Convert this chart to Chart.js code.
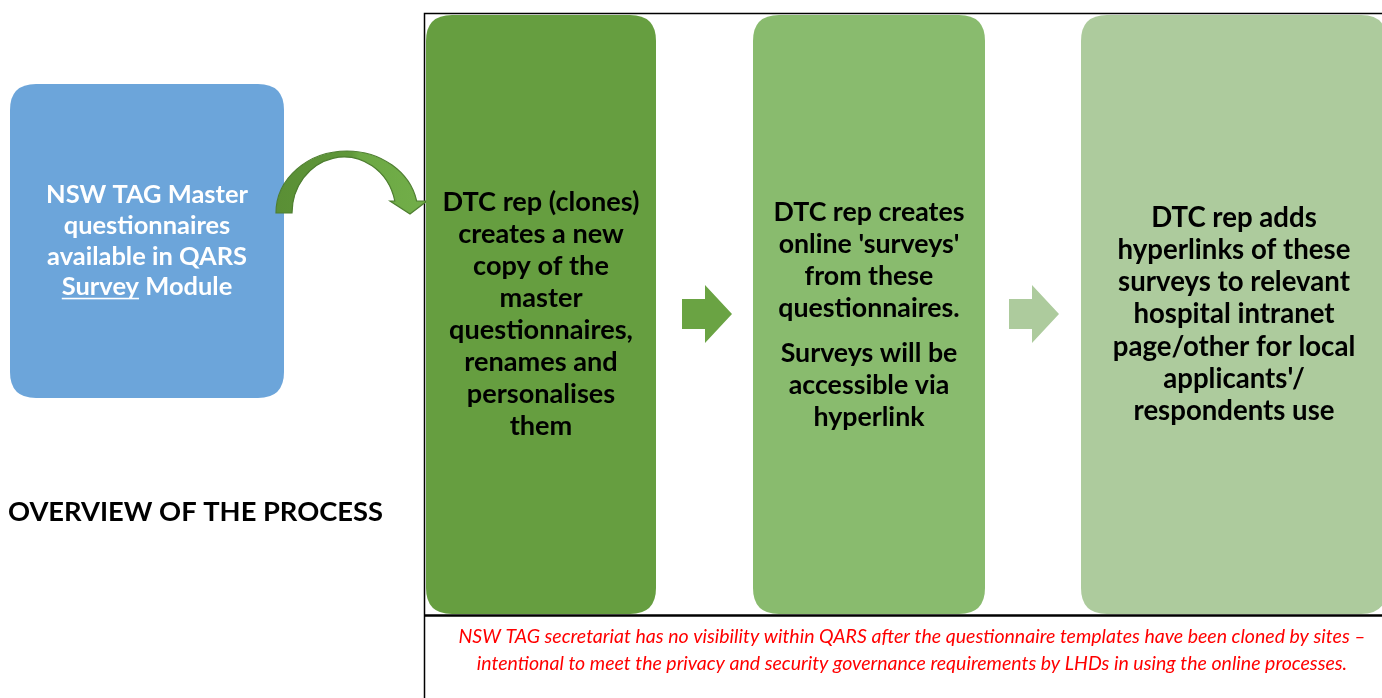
<!DOCTYPE html>
<html lang="en">
<head>
  <meta charset="UTF-8" />
  <title>Overview of the process</title>
  <script src="https://cdn.jsdelivr.net/npm/chart.js"></script>
  <style>
    html, body { margin: 0; padding: 0; background: #fff; }
    #wrap { width: 1382px; height: 698px; position: relative; }
  </style>
</head>
<body>
  <div id="wrap"><canvas id="flow"></canvas></div>

  <script>
    // diagram text
    const title = "OVERVIEW OF THE PROCESS";
    const introLines = ["NSW TAG Master", "questionnaires", "available in QARS", "Survey Module"];
    const underlinedWord = "Survey";
    const step1Lines = ["DTC rep (clones)", "creates a new", "copy of the", "master", "questionnaires,", "renames and", "personalises", "them"];
    const step2Lines = ["DTC rep creates", "online 'surveys'", "from these", "questionnaires.", "", "Surveys will be", "accessible via", "hyperlink"];
    const step3Lines = ["DTC rep adds", "hyperlinks of these", "surveys to relevant", "hospital intranet", "page/other for local", "applicants'/", "respondents use"];
    const footerLines = [
      "NSW TAG secretariat has no visibility within QARS after the questionnaire templates have been cloned by sites \u2013",
      "intentional to meet the privacy and security governance requirements by LHDs in using the online processes."
    ];

    // layout (in page units, mapped through the hidden scales)
    const W = 1382, H = 698;
    const FONT = "Lato, 'Open Sans', sans-serif";
    const intro = { x0: 10, x1: 284, y0: 84, y1: 398, r: 26, fill: "#6CA5DA", color: "#fff", lh: 30.7, fitLine: 0, fitW: 202 };
    const steps = [
      { lines: step1Lines, x0: 426, x1: 656, fill: "#669E40", lh: 32, fitLine: 0, fitW: 197 },
      { lines: step2Lines, x0: 753, x1: 985, fill: "#89BB6E", lh: 32, fitLine: 0, fitW: 191 },
      { lines: step3Lines, x0: 1081, x1: 1387, fill: "#ADCB9D", lh: 32.2, fitLine: 1, fitW: 233 }
    ];
    const stepTop = 15, stepBottom = 614;
    const blockArrows = [
      { x0: 682, x1: 732, yc: 314, fill: "#6AA343" },
      { x0: 1009, x1: 1059, yc: 314, fill: "#ADCB9D" }
    ];

    function fitSize(ctx, text, target, style) {
      ctx.font = style + " 100px " + FONT;
      return 100 * target / ctx.measureText(text).width;
    }

    function roundBox(ctx, x0, y0, x1, y1, r) {
      ctx.beginPath();
      ctx.moveTo(x0 + r, y0);
      ctx.lineTo(x1 - r, y0);
      ctx.quadraticCurveTo(x1, y0, x1, y0 + r);
      ctx.lineTo(x1, y1 - r);
      ctx.quadraticCurveTo(x1, y1, x1 - r, y1);
      ctx.lineTo(x0 + r, y1);
      ctx.quadraticCurveTo(x0, y1, x0, y1 - r);
      ctx.lineTo(x0, y0 + r);
      ctx.quadraticCurveTo(x0, y0, x0 + r, y0);
      ctx.closePath();
    }

    const diagram = {
      id: "diagram",
      afterDraw(chart) {
        const ctx = chart.ctx;
        const sx = chart.scales.x, sy = chart.scales.y;
        const px = v => sx.getPixelForValue(v);
        const py = v => sy.getPixelForValue(v);
        ctx.save();

        // frame
        ctx.strokeStyle = "#000";
        ctx.lineWidth = 1.5;
        ctx.beginPath();
        ctx.moveTo(px(424.5), py(H));
        ctx.lineTo(px(424.5), py(13.5));
        ctx.lineTo(px(W + 10), py(13.5));
        ctx.stroke();

        // intro box
        roundBox(ctx, px(intro.x0), py(intro.y0), px(intro.x1), py(intro.y1), intro.r);
        ctx.fillStyle = intro.fill;
        ctx.fill();
        let fs = fitSize(ctx, introLines[intro.fitLine], intro.fitW, "bold");
        ctx.font = "bold " + fs + "px " + FONT;
        ctx.fillStyle = intro.color;
        ctx.textAlign = "center";
        ctx.textBaseline = "middle";
        const icx = px((intro.x0 + intro.x1) / 2);
        const icy = py((intro.y0 + intro.y1) / 2);
        introLines.forEach((t, i) => {
          const y = icy + (i - (introLines.length - 1) / 2) * intro.lh;
          if (t.startsWith(underlinedWord)) {
            const full = ctx.measureText(t).width;
            const uw = ctx.measureText(underlinedWord).width;
            const left = icx - full / 2;
            ctx.textAlign = "left";
            ctx.fillText(t, left, y);
            ctx.fillRect(left, y + fs * 0.42, uw, 1.6);
            ctx.textAlign = "center";
          } else {
            ctx.fillText(t, icx, y);
          }
        });

        // curved arrow (outer and inner half-ellipses with a down-pointing head)
        const base = py(213), headY = py(201);
        const oc = { x: px(347), rx: 71, ry: 62 };
        const ic = { x: px(344), rx: 52, ry: 56 };
        const oEnd = 2 * Math.PI - Math.asin((base - headY) / oc.ry);
        const iEnd = 2 * Math.PI - Math.asin((base - headY) / ic.ry);
        const grad = ctx.createLinearGradient(px(276), 0, px(427), 0);
        grad.addColorStop(0, "#5A8F35");
        grad.addColorStop(0.5, "#5F9739");
        grad.addColorStop(0.55, "#6CA844");
        grad.addColorStop(1, "#72AE49");
        ctx.beginPath();
        ctx.ellipse(oc.x, base, oc.rx, oc.ry, 0, Math.PI, oEnd);
        ctx.lineTo(px(427), headY);
        ctx.lineTo(px(410), py(214));
        ctx.lineTo(px(390), headY);
        ctx.ellipse(ic.x, base, ic.rx, ic.ry, 0, iEnd, Math.PI, true);
        ctx.closePath();
        ctx.fillStyle = grad;
        ctx.fill();
        ctx.strokeStyle = "#4E7E30";
        ctx.lineWidth = 1.2;
        ctx.stroke();

        // step boxes
        steps.forEach(s => {
          roundBox(ctx, px(s.x0), py(stepTop), px(s.x1), py(stepBottom), 26);
          ctx.fillStyle = s.fill;
          ctx.fill();
          const f = fitSize(ctx, s.lines[s.fitLine], s.fitW, "bold");
          ctx.font = "bold " + f + "px " + FONT;
          ctx.fillStyle = "#000";
          ctx.textAlign = "center";
          ctx.textBaseline = "middle";
          const units = s.lines.map(t => t === "" ? 0.4 : 1);
          const total = units.reduce((a, b) => a + b, 0) - 1;
          let y = py((stepTop + stepBottom) / 2) - total * s.lh / 2;
          const mx = px((s.x0 + s.x1) / 2);
          s.lines.forEach((t, i) => {
            if (t !== "") ctx.fillText(t, mx, y);
            if (i < s.lines.length - 1) y += (s.lines[i + 1] === "" || t === "" ? 0.7 : 1) * s.lh;
          });
        });

        // block arrows
        blockArrows.forEach(a => {
          const x0 = px(a.x0), x1 = px(a.x1), yc = py(a.yc);
          const xm = x0 + (x1 - x0) * 0.46;
          ctx.beginPath();
          ctx.moveTo(x0, yc - 15);
          ctx.lineTo(xm, yc - 15);
          ctx.lineTo(xm, yc - 29);
          ctx.lineTo(x1, yc);
          ctx.lineTo(xm, yc + 29);
          ctx.lineTo(xm, yc + 15);
          ctx.lineTo(x0, yc + 15);
          ctx.closePath();
          ctx.fillStyle = a.fill;
          ctx.fill();
        });

        // separator above footnote
        ctx.strokeStyle = "#000";
        ctx.lineWidth = 2.5;
        ctx.beginPath();
        ctx.moveTo(px(424), py(615.5));
        ctx.lineTo(px(W + 10), py(615.5));
        ctx.stroke();

        // footnote
        const ff = fitSize(ctx, footerLines[0], 908, "italic");
        ctx.font = "italic " + ff + "px " + FONT;
        ctx.fillStyle = "#FF0000";
        ctx.textAlign = "center";
        ctx.textBaseline = "middle";
        footerLines.forEach((t, i) => ctx.fillText(t, px(912), py(637 + i * 27)));

        // title
        const tf = fitSize(ctx, title, 375, "bold");
        ctx.font = "bold " + tf + "px " + FONT;
        ctx.fillStyle = "#000";
        ctx.textAlign = "left";
        ctx.fillText(title, px(8), py(512));

        ctx.restore();
      }
    };

    new Chart(document.getElementById("flow"), {
      type: "scatter",
      data: { datasets: [{ data: [], pointRadius: 0 }] },
      options: {
        responsive: true,
        maintainAspectRatio: false,
        animation: false,
        layout: { padding: 0 },
        plugins: { legend: { display: false }, tooltip: { enabled: false } },
        scales: {
          x: { type: "linear", min: 0, max: W, display: false },
          y: { type: "linear", min: 0, max: H, reverse: true, display: false }
        }
      },
      plugins: [diagram]
    });
  </script>
</body>
</html>
